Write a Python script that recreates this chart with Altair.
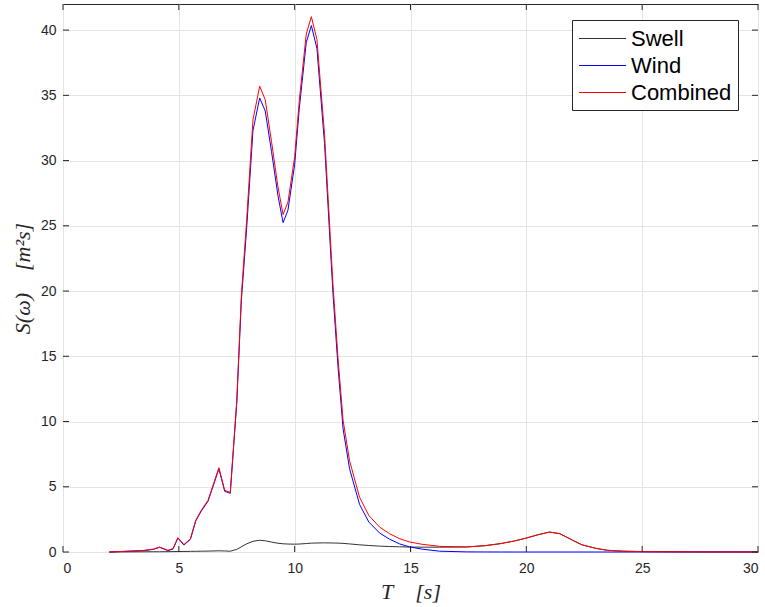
import altair as alt
import pandas as pd

# Period T [s]
T = [2.0, 2.5, 3.0, 3.5, 3.9, 4.17, 4.53, 4.75, 4.96, 5.22,
     5.5, 5.73, 5.97, 6.26, 6.73, 6.98, 7.22, 7.5, 7.7, 7.92,
     8.2, 8.49, 8.73, 9.0, 9.28, 9.5, 9.71, 10.0, 10.2, 10.5,
     10.72, 10.96, 11.29, 11.65, 11.87, 12.09, 12.37, 12.8, 13.2, 13.67,
     14.1, 14.53, 14.96, 15.5, 16.26, 17.4, 18.2, 18.88, 19.5, 20.0,
     20.5, 21.0, 21.45, 22.0, 22.4, 23.0, 23.5, 24.2, 25.0, 27.0,
     30.0]

swell = [0.0, 0.005, 0.01, 0.015, 0.02, 0.02, 0.025, 0.03, 0.035, 0.04,
         0.05, 0.055, 0.06, 0.07, 0.09, 0.08, 0.06, 0.2, 0.4, 0.62,
         0.82, 0.9, 0.86, 0.76, 0.67, 0.63, 0.61, 0.6, 0.61, 0.65,
         0.68, 0.69, 0.7, 0.69, 0.68, 0.66, 0.62, 0.55, 0.5, 0.45,
         0.42, 0.4, 0.38, 0.37, 0.37, 0.38, 0.48, 0.64, 0.85, 1.07,
         1.32, 1.53, 1.4, 0.9, 0.55, 0.28, 0.13, 0.06, 0.03, 0.01,
         0.003]

wind = [0.0, 0.035, 0.07, 0.11, 0.2, 0.36, 0.105, 0.23, 1.065, 0.53,
        0.97, 2.375, 3.14, 3.89, 6.37, 4.65, 4.5, 11.4, 19.3, 24.6,
        32.3, 34.8, 33.8, 30.7, 27.3, 25.24, 26.2, 29.7, 34.0, 39.05,
        40.35, 38.6, 31.3, 19.9, 14.2, 9.44, 6.38, 3.65, 2.3, 1.45,
        0.98, 0.62, 0.39, 0.22, 0.06, 0.01, 0.003, 0.001, 0.0, 0.0,
        0.0, 0.0, 0.0, 0.0, 0.0, 0.0, 0.0, 0.0, 0.0, 0.0,
        0.0]

combined = [0.0, 0.04, 0.08, 0.125, 0.22, 0.38, 0.13, 0.26, 1.1, 0.57,
            1.02, 2.43, 3.2, 3.96, 6.46, 4.73, 4.56, 11.6, 19.7, 25.22,
            33.12, 35.7, 34.66, 31.46, 27.97, 25.87, 26.81, 30.3, 34.61, 39.7,
            41.03, 39.29, 32.0, 20.59, 14.88, 10.1, 7.0, 4.2, 2.8, 1.9,
            1.4, 1.02, 0.77, 0.59, 0.43, 0.39, 0.483, 0.641, 0.85, 1.07,
            1.32, 1.53, 1.4, 0.9, 0.55, 0.28, 0.13, 0.06, 0.03, 0.01,
            0.003]

series_names = ["Swell", "Wind", "Combined"]
series_colors = ["#333333", "#0000ff", "#ff0000"]
x_ticks = [0, 5, 10, 15, 20, 25, 30]
y_ticks = [0, 5, 10, 15, 20, 25, 30, 35, 40]

rows = []
for name, vals in zip(series_names, [swell, wind, combined]):
    for t, v in zip(T, vals):
        rows.append({"T": t, "S": v, "series": name})
df = pd.DataFrame(rows)

W, H = 695, 548
AX = "#262626"
xscale = alt.Scale(domain=[0, 30], nice=False, zero=False)
yscale = alt.Scale(domain=[0, 42], nice=False)

x_axis = alt.Axis(values=x_ticks, title="T\u00a0\u00a0\u00a0\u00a0[s]",
                  titleFont="Liberation Serif", titleFontStyle="italic",
                  titleFontWeight="normal", titleFontSize=22, titleColor=AX,
                  titleX=W / 2, titleY=46, titleBaseline="alphabetic",
                  labelFont="Liberation Sans", labelFontSize=14, labelColor=AX,
                  labelPadding=9, ticks=False, domain=False,
                  grid=True, gridColor="#e4e4e4", gridWidth=1)
y_axis = alt.Axis(values=y_ticks, title="S(\u03c9)\u00a0\u00a0\u00a0\u00a0[m\u00b2s]",
                  titleFont="Liberation Serif", titleFontStyle="italic",
                  titleFontWeight="normal", titleFontSize=22, titleColor=AX,
                  titleX=-41, titleY=H / 2, titleAngle=270, titleBaseline="middle",
                  labelFont="Liberation Sans", labelFontSize=14, labelColor=AX,
                  labelPadding=7, ticks=False, domain=False,
                  grid=True, gridColor="#e4e4e4", gridWidth=1)

color = alt.Color("series:N",
                  scale=alt.Scale(domain=series_names, range=series_colors),
                  legend=alt.Legend(orient="none", legendX=509, legendY=16,
                                    title=None, fillColor="white",
                                    strokeColor=AX, padding=6,
                                    symbolType="M-2,0L2,0", symbolSize=552,
                                    symbolOffset=12,
                                    symbolStrokeWidth=1.2,
                                    labelFont="Liberation Sans",
                                    labelFontSize=22, labelColor="black",
                                    labelOffset=16, rowPadding=3))

layers = []
for name in series_names:
    layers.append(
        alt.Chart(df).transform_filter(alt.datum.series == name)
        .mark_line(strokeWidth=1)
        .encode(x=alt.X("T:Q", scale=xscale, axis=x_axis),
                y=alt.Y("S:Q", scale=yscale, axis=y_axis),
                color=color)
    )

xt = pd.DataFrame({"T": x_ticks})
yt = pd.DataFrame({"S": y_ticks})
tick_bottom = alt.Chart(xt).mark_rule(color=AX, strokeWidth=1).encode(
    x=alt.X("T:Q", scale=xscale, axis=x_axis), y=alt.value(H), y2=alt.value(H - 6))
tick_top = alt.Chart(xt).mark_rule(color=AX, strokeWidth=1).encode(
    x=alt.X("T:Q", scale=xscale, axis=x_axis), y=alt.value(0), y2=alt.value(6))
tick_left = alt.Chart(yt).mark_rule(color=AX, strokeWidth=1).encode(
    y=alt.Y("S:Q", scale=yscale, axis=y_axis), x=alt.value(0), x2=alt.value(6))
tick_right = alt.Chart(yt).mark_rule(color=AX, strokeWidth=1).encode(
    y=alt.Y("S:Q", scale=yscale, axis=y_axis), x=alt.value(W), x2=alt.value(W - 6))

chart = alt.layer(*layers, tick_bottom, tick_top, tick_left, tick_right).properties(
    width=W, height=H,
    autosize=alt.AutoSizeParams(type="none"),
    padding={"left": 63, "top": 4, "right": 7, "bottom": 55},
    background="white",
).configure_view(stroke=AX, strokeWidth=1)

chart.save("out.html", embed_options={"renderer": "svg", "actions": False})
